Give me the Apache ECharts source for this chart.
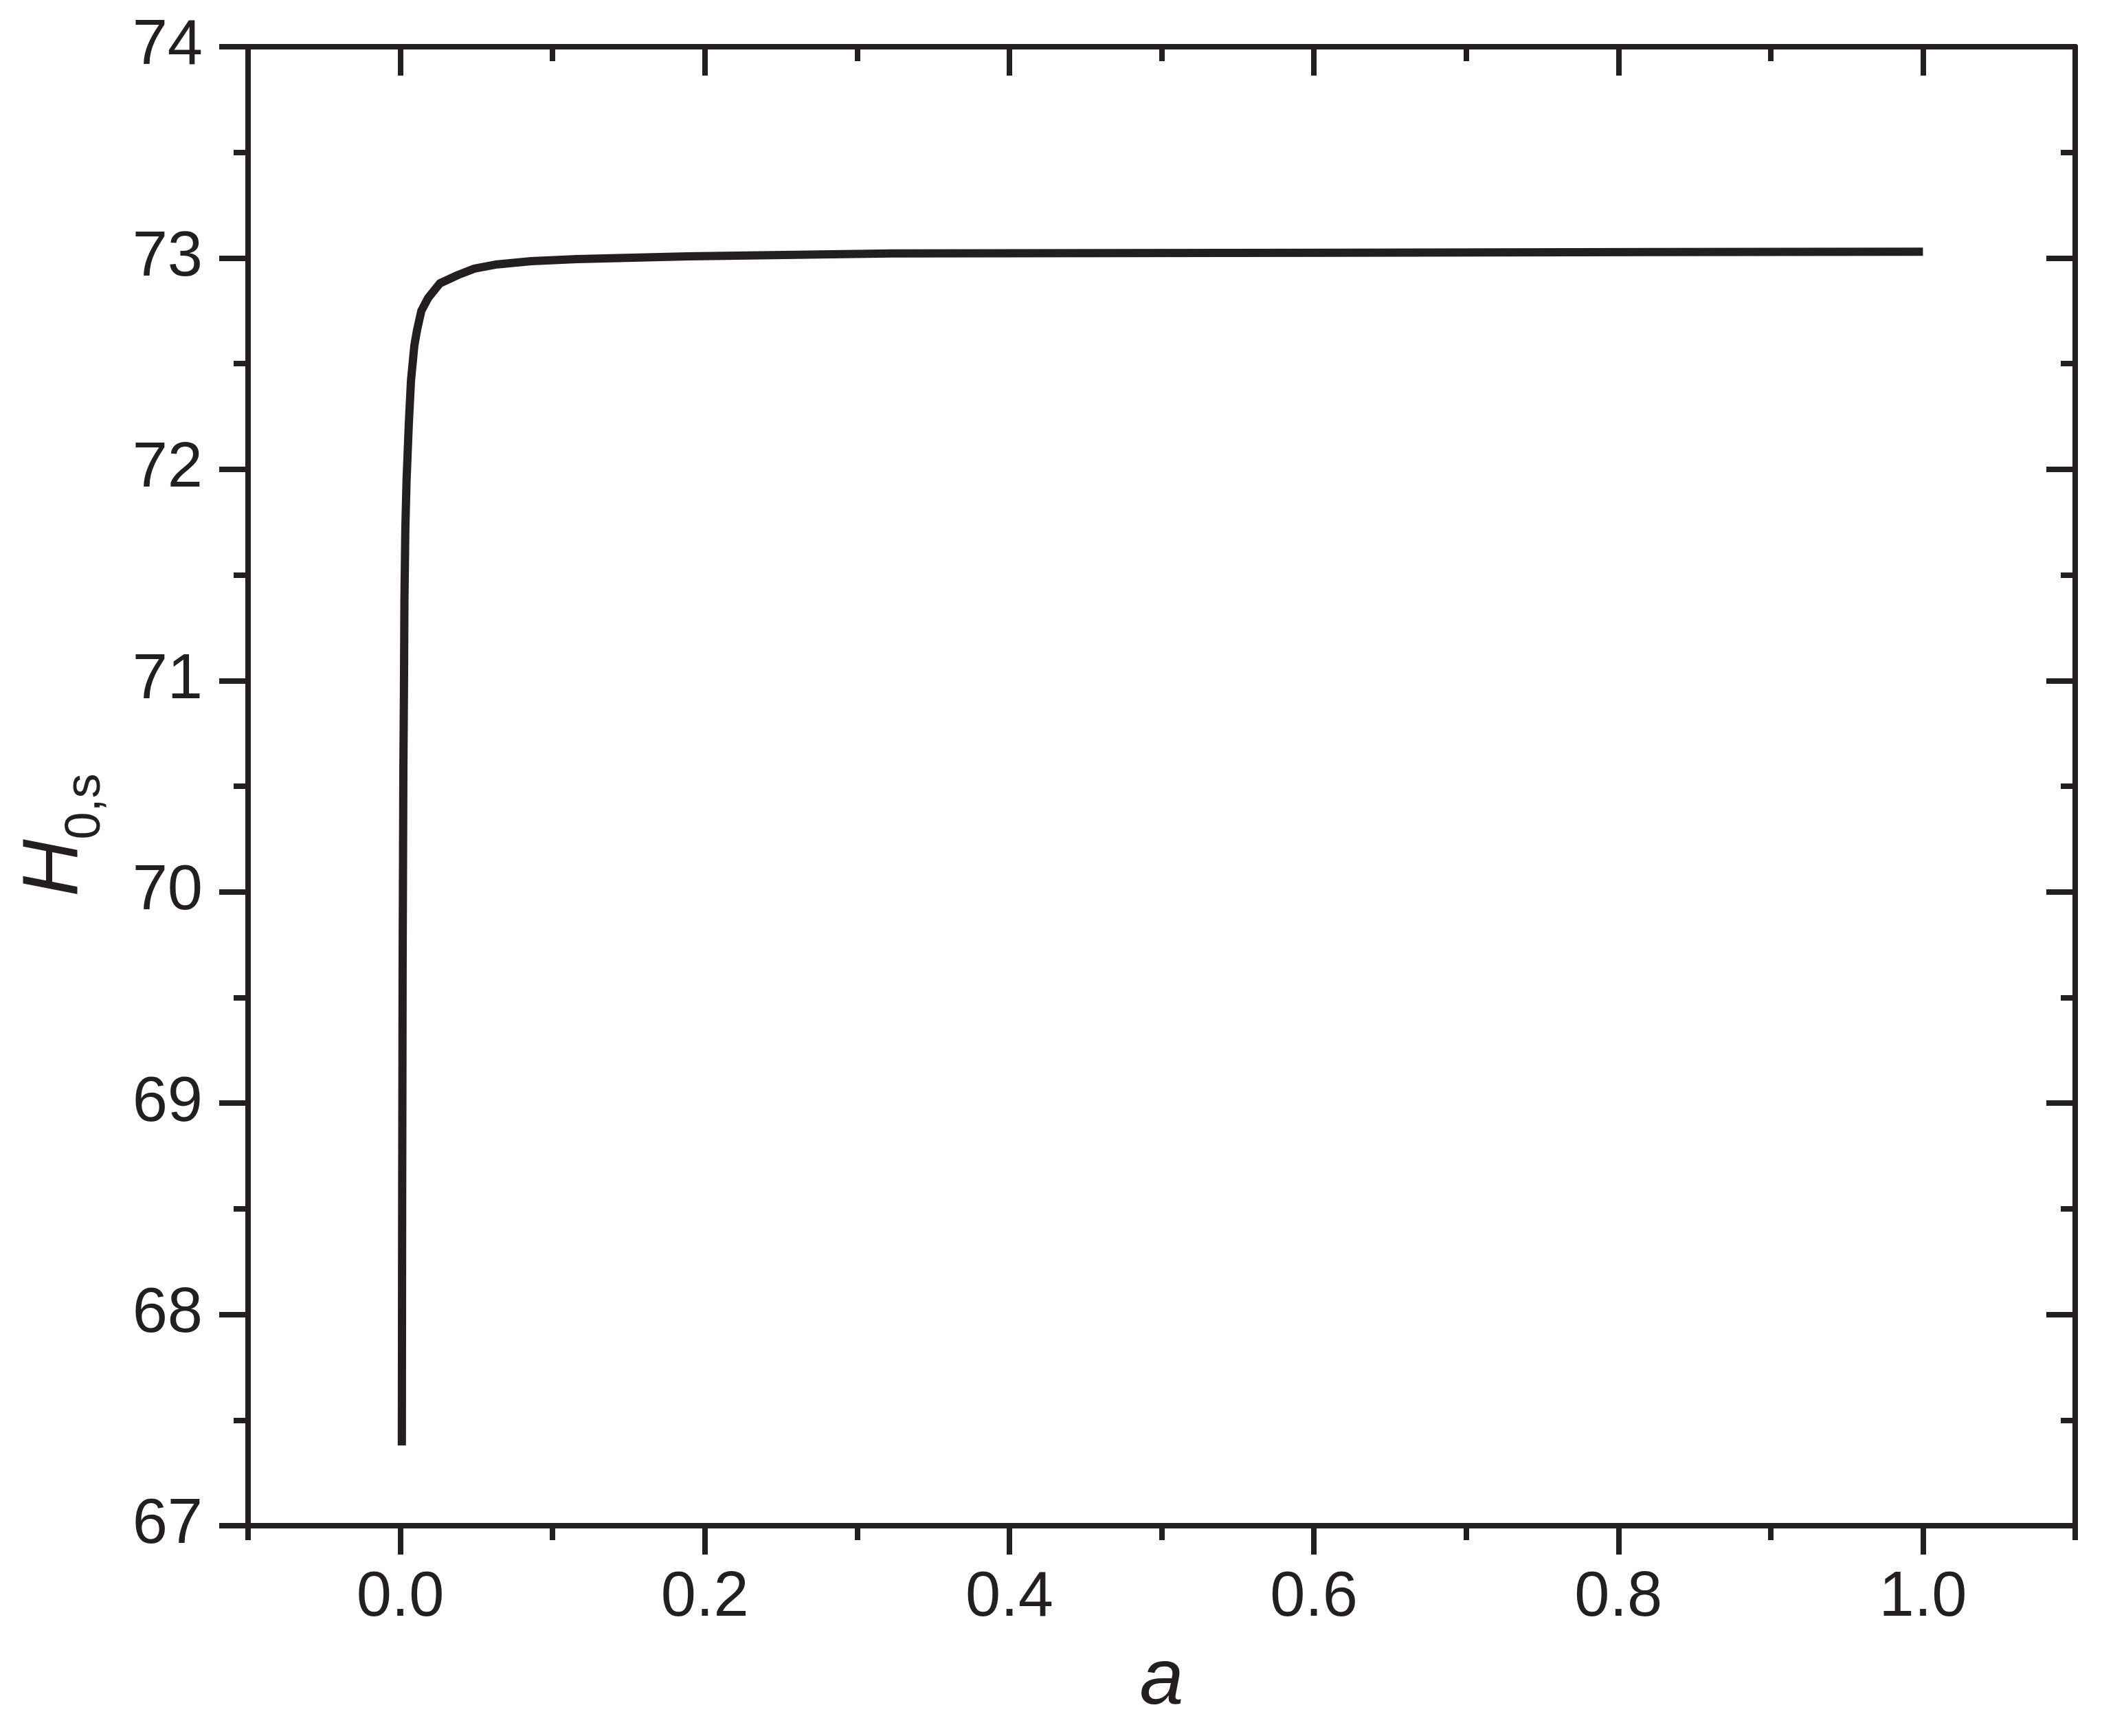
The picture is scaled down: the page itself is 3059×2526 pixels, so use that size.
<!DOCTYPE html>
<html>
<head>
<meta charset="utf-8">
<script src="https://cdn.jsdelivr.net/npm/echarts@6/dist/echarts.min.js"></script>
<style>
html, body { margin: 0; padding: 0; background: #fff; }
#chart { width: 3059px; height: 2526px; }
</style>
</head>
<body>
<div id="chart"></div>
<script>
// H0,s against a
var aValues = [0.0010, 0.0012, 0.0014, 0.0015, 0.0020, 0.0024, 0.0027, 0.0033, 0.0041, 0.0056,
               0.0070, 0.0092, 0.0110, 0.0138, 0.0182, 0.026, 0.038, 0.0486, 0.0635, 0.086,
               0.116, 0.189, 0.323, 0.618, 0.823, 1.0];
var hValues = [67.38, 68.50, 69.20, 69.63, 70.57, 70.98, 71.38, 71.72, 71.95, 72.22,
               72.42, 72.585, 72.66, 72.75, 72.81, 72.88, 72.92, 72.95, 72.97, 72.985,
               72.995, 73.008, 73.022, 73.025, 73.028, 73.03];

var xMajorTicks = [0, 0.2, 0.4, 0.6, 0.8, 1.0];
var xMinorTicks = [-0.1, 0.1, 0.3, 0.5, 0.7, 0.9, 1.1];
var yTicks = [67, 68, 69, 70, 71, 72, 73, 74];

var ink = '#231f20';
var font = 'Liberation Sans';

var chart = echarts.init(document.getElementById('chart'));

var points = [];
for (var i = 0; i < aValues.length; i++) {
    points.push([aValues[i], hValues[i]]);
}

function xAxisOf(pos, ticks, len, inside, withLabel, withLine) {
    return {
        type: 'value',
        position: pos,
        min: -0.1,
        max: 1.1,
        interval: 0.1,
        axisLine: { show: withLine, onZero: false, lineStyle: { color: ink, width: 8 } },
        axisTick: { show: true, inside: inside, length: len, customValues: ticks,
                    lineStyle: { color: ink, width: 8 } },
        minorTick: { show: false },
        splitLine: { show: false },
        axisLabel: withLabel ? {
            show: true, customValues: xMajorTicks, margin: 60,
            color: ink, fontFamily: font, fontSize: 92, lineHeight: 92,
            formatter: function (v) { return v.toFixed(1); }
        } : { show: false }
    };
}

function yAxisOf(pos, inside, withLabel) {
    return {
        type: 'value',
        position: pos,
        min: 67,
        max: 74,
        interval: 1,
        axisLine: { show: true, onZero: false, lineStyle: { color: ink, width: 8 } },
        axisTick: { show: true, inside: inside, length: 42, lineStyle: { color: ink, width: 8 } },
        minorTick: { show: true, splitNumber: 2, length: 21, lineStyle: { color: ink, width: 8 } },
        splitLine: { show: false },
        axisLabel: withLabel ? {
            show: true, margin: 66, color: ink, fontFamily: font, fontSize: 92,
            padding: [0, 0, 20, 0],
            formatter: function (v) { return yTicks.indexOf(v) >= 0 ? String(v) : ''; }
        } : { show: false }
    };
}

var bottomAxis = xAxisOf('bottom', xMajorTicks, 42, false, true, true);
bottomAxis.name = 'a';
bottomAxis.nameLocation = 'middle';
bottomAxis.nameGap = 170;
bottomAxis.nameTextStyle = { color: ink, fontFamily: font, fontSize: 115, fontStyle: 'italic', lineHeight: 115 };

var leftAxis = yAxisOf('left', false, true);
leftAxis.name = '{h|H}{s|0,s}';
leftAxis.nameLocation = 'middle';
leftAxis.nameGap = 200;
leftAxis.nameTextStyle = {
    color: ink,
    fontFamily: font,
    padding: [0, 142, 0, 0],
    rich: {
        h: { fontSize: 115, fontStyle: 'italic', lineHeight: 160, fontFamily: font, color: ink },
        s: { fontSize: 72, lineHeight: 50, verticalAlign: 'bottom', fontFamily: font, color: ink }
    }
};

option = {
    backgroundColor: '#ffffff',
    animation: false,
    grid: { left: 361, right: 39, top: 68, bottom: 306, containLabel: false },
    xAxis: [
        bottomAxis,
        xAxisOf('bottom', xMinorTicks, 21, false, false, false),
        xAxisOf('top', xMajorTicks, 42, true, false, true),
        xAxisOf('top', xMinorTicks, 21, true, false, false)
    ],
    yAxis: [
        leftAxis,
        yAxisOf('right', true, false)
    ],
    series: [
        {
            type: 'line',
            xAxisIndex: 0,
            yAxisIndex: 0,
            data: points,
            showSymbol: false,
            symbol: 'none',
            smooth: false,
            lineStyle: { color: ink, width: 12, cap: 'butt', join: 'round' }
        }
    ]
};
chart.setOption(option);
</script>
</body>
</html>
